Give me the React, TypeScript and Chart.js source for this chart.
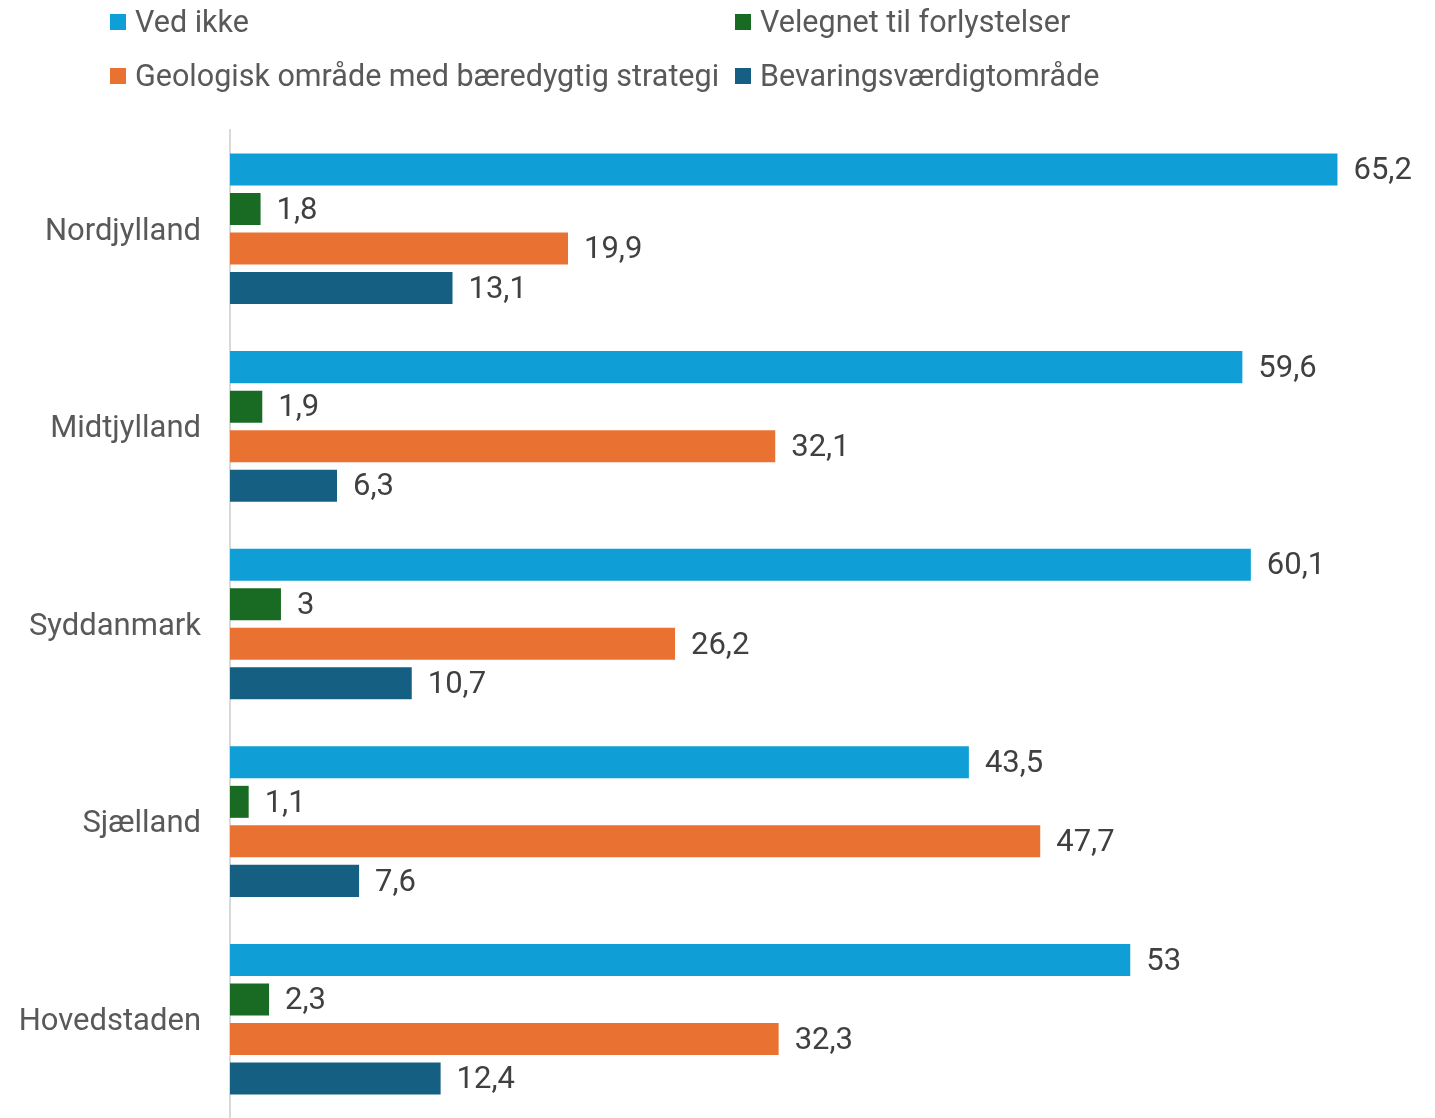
import React, { useEffect, useRef } from "react";
import { Chart, registerables } from "chart.js";
Chart.register(...registerables);

const categories = ["Nordjylland", "Midtjylland", "Syddanmark", "Sjælland", "Hovedstaden"];
const seriesNames = ["Ved ikke", "Velegnet til forlystelser", "Geologisk område med bæredygtig strategi", "Bevaringsværdigtområde"];
const vedIkke = [65.2, 59.6, 60.1, 43.5, 53];
const velegnet = [1.8, 1.9, 3, 1.1, 2.3];
const geologisk = [19.9, 32.1, 26.2, 47.7, 32.3];
const bevaring = [13.1, 6.3, 10.7, 7.6, 12.4];
const colors = ["#0F9ED5", "#196B24", "#E97132", "#156082"];

const FONT = "Roboto, 'Liberation Sans', sans-serif";

const fmt = (v: number) => String(v).replace(".", ",");

const labelPlugin = {
  id: "valueLabels",
  afterDatasetsDraw(chart: any) {
    const ctx = chart.ctx;
    ctx.save();
    ctx.font = `31px ${FONT}`;
    ctx.fillStyle = "#404040";
    ctx.textAlign = "left";
    ctx.textBaseline = "middle";
    chart.data.datasets.forEach((ds: any, i: number) => {
      const meta = chart.getDatasetMeta(i);
      meta.data.forEach((bar: any, j: number) => {
        ctx.fillText(fmt(ds.data[j]), bar.x + 16, bar.y + 2);
      });
    });
    ctx.restore();
  },
};

export default function App() {
  const ref = useRef<HTMLCanvasElement>(null);
  useEffect(() => {
    const data = [vedIkke, velegnet, geologisk, bevaring];
    const chart = new Chart(ref.current!, {
      type: "bar",
      data: {
        labels: categories,
        datasets: seriesNames.map((n, i) => ({
          label: n,
          data: data[i],
          backgroundColor: colors[i],
          categoryPercentage: 0.8,
          barPercentage: 0.81,
        })),
      },
      options: {
        indexAxis: "y",
        animation: false,
        responsive: true,
        maintainAspectRatio: false,
        devicePixelRatio: 1,
        layout: { autoPadding: false, padding: { top: 130, right: 16, bottom: 0, left: 0 } },
        plugins: { legend: { display: false }, tooltip: { enabled: false } },
        scales: {
          x: { min: 0, max: 70, display: false, grid: { display: false } },
          y: {
            grid: { display: false },
            border: { color: "#D9D9D9", width: 2 },
            ticks: { color: "#595959", font: { family: FONT, size: 31 }, padding: 21, labelOffset: 3 },
            afterFit: (s: any) => {
              s.width = 230;
              s.paddingTop = 0;
              s.paddingBottom = 0;
            },
          },
        },
      },
      plugins: [labelPlugin],
    });
    return () => chart.destroy();
  }, []);

  const legendItem = (i: number, x: number, y: number) => (
    <div key={i} style={{ position: "absolute", left: x, top: y, display: "flex", alignItems: "center", whiteSpace: "nowrap" }}>
      <span style={{ display: "inline-block", width: 16, height: 16, background: colors[i], marginRight: 9 }} />
      <span style={{ fontFamily: FONT, fontSize: 30.5, color: "#595959" }}>{seriesNames[i]}</span>
    </div>
  );

  return (
    <div style={{ position: "absolute", left: 0, top: 0, width: 1435, height: 1118, background: "#fff", overflow: "hidden" }}>
      <div style={{ position: "absolute", left: 0, top: 0, width: 1435, height: 1118 }}>
        <canvas ref={ref} />
      </div>
      {legendItem(0, 110, 4)}
      {legendItem(1, 735, 4)}
      {legendItem(2, 110, 58)}
      {legendItem(3, 735, 58)}
    </div>
  );
}
